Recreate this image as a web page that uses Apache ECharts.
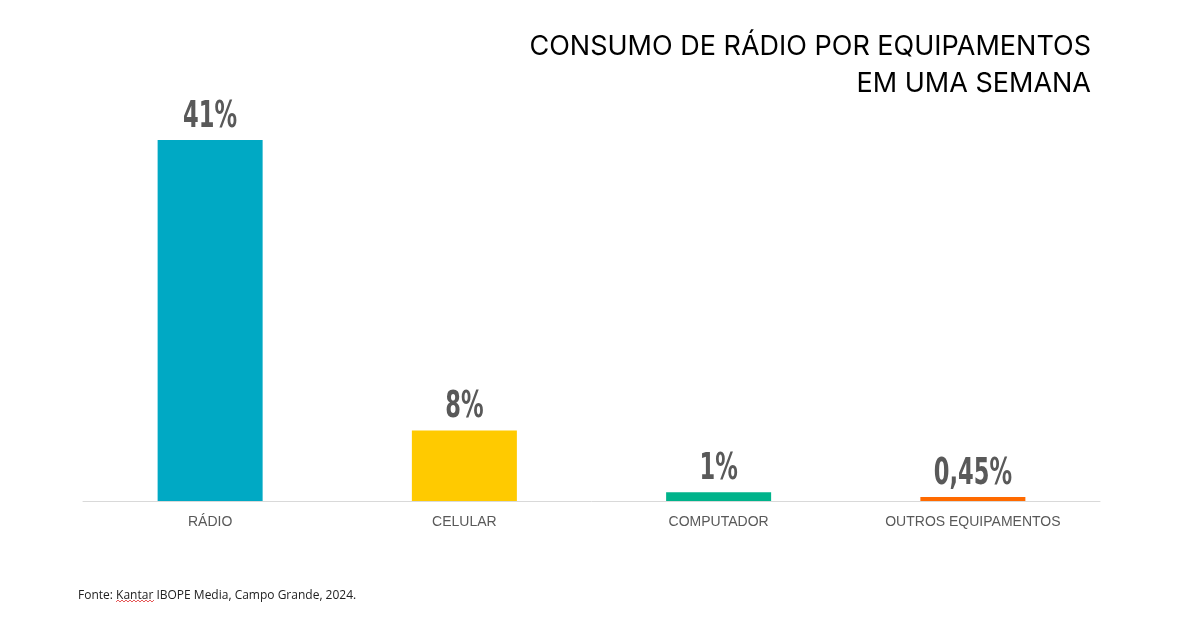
<!DOCTYPE html>
<html><head><meta charset="utf-8">
<script src="https://cdn.jsdelivr.net/npm/echarts@6/dist/echarts.min.js"></script>
<style>html,body{margin:0;padding:0;background:#fff}#c{width:1180px;height:622px}</style>
</head><body><div id="c"></div>
<script>
const categories = ['RÁDIO', 'CELULAR', 'COMPUTADOR', 'OUTROS EQUIPAMENTOS'];
const values = [41, 8, 1, 0.45];
const valueLabels = ['41%', '8%', '1%', '0,45%'];
const barColors = ['#00A9C4', '#FFCA00', '#00B38B', '#FF6A00'];
const titleLines = ['CONSUMO DE RÁDIO POR EQUIPAMENTOS', 'EM UMA SEMANA'];
const sourceText = 'Fonte: Kantar IBOPE Media, Campo Grande, 2024.';

// spell-check style squiggle under "Kantar" (decoration)
const squiggle = [];
for (let k = 0; k <= 19; k++) squiggle.push([116 + k * 2, k % 2 ? 600 : 602]);

const chart = echarts.init(document.getElementById('c'));
chart.setOption({
  animation: false,
  backgroundColor: '#fff',
  graphic: [{
    type: 'text', x: 1091, y: 28,
    style: { text: titleLines.join('\n'), font: '27px Inter', fill: '#000', align: 'right', verticalAlign: 'top', lineHeight: 37 }
  }, {
    type: 'text', left: 78, top: 590,
    style: { text: sourceText, font: '12px "Open Sans"', fill: '#222' }
  }, {
    type: 'polyline', shape: { points: squiggle },
    style: { stroke: '#e03030', lineWidth: 0.8, fill: null }
  }],
  grid: { left: 83, right: 80, top: 140, bottom: 121 },
  xAxis: {
    type: 'category', data: categories,
    axisLine: { lineStyle: { color: '#d9d9d9', width: 1 } },
    axisTick: { show: false },
    axisLabel: { color: '#595959', fontSize: 14, fontFamily: 'Liberation Sans', margin: 14 }
  },
  yAxis: { type: 'value', min: 0, max: 41, show: false, splitLine: { show: false } },
  series: [{
    type: 'bar',
    barWidth: '41.3%',
    data: values.map((v, i) => ({ value: v, itemStyle: { color: barColors[i] } }))
  }, {
    type: 'custom',
    z: 10,
    data: values.map((v, i) => [i, v]),
    renderItem: (params, api) => {
      const p = api.coord([api.value(0), api.value(1)]);
      return {
        type: 'text',
        x: p[0], y: p[1] - 4,
        scaleX: 0.66,
        style: {
          text: valueLabels[params.dataIndex],
          font: 'bold 38px "DejaVu Sans Condensed"',
          fill: '#595959', align: 'center', verticalAlign: 'bottom'
        }
      };
    }
  }]
});
</script></body></html>
